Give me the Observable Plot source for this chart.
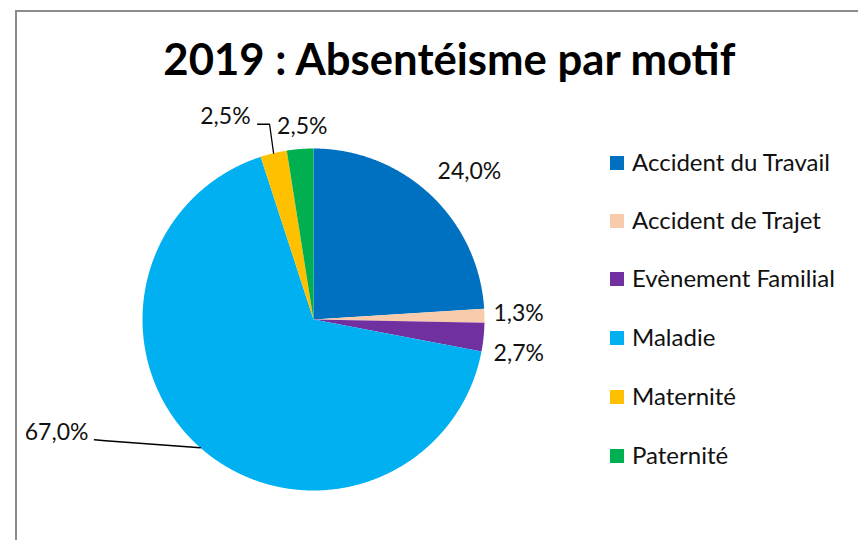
<!DOCTYPE html>
<html>
<head>
<meta charset="utf-8">
<script src="https://cdn.jsdelivr.net/npm/d3@7"></script>
<script src="https://cdn.jsdelivr.net/npm/@observablehq/plot@0.6"></script>
<style>
  html, body { margin: 0; padding: 0; background: #fff; }
  #wrap { position: relative; width: 858px; height: 540px; overflow: hidden; font-family: Lato, "Open Sans", sans-serif; color: #111; }
  #frame { position: absolute; left: 15px; top: 10px; width: 900px; height: 600px; border-left: 2px solid #8c8c8c; border-top: 2px solid #8c8c8c; box-sizing: border-box; }
  #title { position: absolute; left: 0; width: 898px; top: 32px; text-align: center; font-weight: 700; font-size: 44px; line-height: 53px; white-space: nowrap; color: #000; }
  #title span { display: inline-block; transform-origin: center; }
  #chart { position: absolute; left: 0; top: 0; }
  #legend { position: absolute; left: 610px; top: 0; }
  .item { position: absolute; left: 0; white-space: nowrap; font-size: 24px; line-height: 26px; height: 26px; }
  .sw { position: absolute; left: 0; top: 7px; width: 14px; height: 14px; }
  .lab { position: absolute; left: 22px; top: 0; }
</style>
</head>
<body>
<div id="wrap">
  <div id="frame"></div>
  <div id="chart"></div>
  <div id="title"><span>2019 : Absentéisme par motif</span></div>
  <div id="legend"></div>
</div>
<script>
// ---- data ----
const categories = ["Accident du Travail", "Accident de Trajet", "Evènement Familial", "Maladie", "Maternité", "Paternité"];
const values = [24.0, 1.3, 2.7, 67.0, 2.5, 2.5];
const labels = ["24,0%", "1,3%", "2,7%", "67,0%", "2,5%", "2,5%"];
const colors = ["#0070C0", "#F8CBAD", "#7030A0", "#00B0F0", "#FFC000", "#00B050"];

// ---- layout (pixels) ----
const CX = 313, CY = 319, RPX = 171;
// label offsets from the rim point at the slice's mid angle
const labelLayout = [
  {dx: 7, dy: -23, anchor: "start"},
  {dx: 9, dy: -2, anchor: "start"},
  {dx: 10, dy: 16, anchor: "start"},
  {dx: -112, dy: -15, anchor: "end"},
  {dx: -23, dy: -37, anchor: "end"},
  {dx: -23, dy: -22, anchor: "start"}
];
// leader polylines, offsets from the rim point (pixels)
const leaderLayout = [
  null, null, null,
  [[0, 0], [-95, -7], [-106, -8]],
  [[0, 0], [-4, -29], [-16, -29]],
  null
];

const pie = d3.pie().sort(null).value(d => d)(values);
const toUnit = p => p / RPX;

const slices = [];
const texts = [];
const leaders = [];
pie.forEach((a, i) => {
  const a0 = a.startAngle, a1 = a.endAngle;
  const n = Math.max(2, Math.ceil((a1 - a0) / 0.005));
  slices.push({k: categories[i], x: 0, y: 0});
  for (let j = 0; j <= n; j++) {
    const t = a0 + (a1 - a0) * j / n;
    slices.push({k: categories[i], x: Math.sin(t), y: Math.cos(t)});
  }
  slices.push({k: categories[i], x: 0, y: 0});
  const m = (a0 + a1) / 2;
  const rx = Math.sin(m), ry = Math.cos(m);
  const L = labelLayout[i];
  texts.push({x: rx + toUnit(L.dx), y: ry - toUnit(L.dy), text: labels[i], anchor: L.anchor});
  if (leaderLayout[i]) {
    leaderLayout[i].forEach(([dx, dy]) => leaders.push({k: i, x: rx + toUnit(dx), y: ry - toUnit(dy)}));
  }
});

const plot = Plot.plot({
  width: 858,
  height: 540,
  margin: 0,
  x: {domain: [-1, 1], range: [CX - RPX, CX + RPX], axis: null},
  y: {domain: [-1, 1], range: [CY + RPX, CY - RPX], axis: null},
  color: {domain: categories, range: colors},
  style: {background: "transparent", fontFamily: "Lato, 'Open Sans', sans-serif"},
  marks: [
    Plot.line(slices, {x: "x", y: "y", z: "k", fill: "k", stroke: "none", curve: "linear"}),
    Plot.line(leaders, {x: "x", y: "y", z: "k", stroke: "#000", strokeWidth: 1.3}),
    Plot.text(texts.filter(d => d.anchor === "start"), {x: "x", y: "y", text: "text", textAnchor: "start", fontSize: 23, fill: "#111"}),
    Plot.text(texts.filter(d => d.anchor === "end"), {x: "x", y: "y", text: "text", textAnchor: "end", fontSize: 23, fill: "#111"})
  ]
});
document.getElementById("chart").appendChild(plot);

// legend
const legendY = [162, 220, 278, 337, 396, 455];
const lg = document.getElementById("legend");
categories.forEach((c, i) => {
  const it = document.createElement("div");
  it.className = "item";
  it.style.top = (legendY[i] - 13) + "px";
  it.innerHTML = `<div class="sw" style="background:${colors[i]}"></div><div class="lab">${c}</div>`;
  lg.appendChild(it);
});

// title fit width
const ts = document.querySelector("#title span");
const w = ts.getBoundingClientRect().width;
ts.style.transform = `scaleX(${572 / w})`;
</script>
</body>
</html>
